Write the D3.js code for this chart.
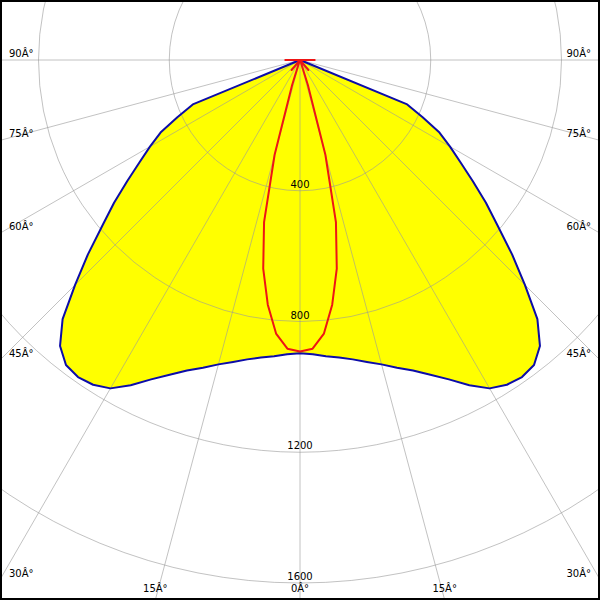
<!DOCTYPE html>
<html>
<head>
<meta charset="utf-8">
<script src="https://cdn.jsdelivr.net/npm/d3@7"></script>
<style>
  html, body { margin: 0; padding: 0; background: #fff; }
  svg { display: block; }
  text { font-family: "DejaVu Sans", sans-serif; font-size: 10px; fill: #000; }
</style>
</head>
<body>
<div id="chart"></div>
<script>
// ---- data ----
const gammaAngles = [0, 2.5, 5, 7.5, 10, 12.5, 15, 17.5, 20, 22.5, 25, 27.5, 30, 32.5, 35, 37.5,
  40, 42.5, 45, 47.5, 50, 52.5, 55, 57.5, 60, 62.5, 65, 67.5, 70, 72.5, 75, 77.5, 80, 82.5, 85, 87.5, 90];
// C0-C180 plane (yellow fill, blue outline), cd
const planeC0 = [897, 901, 910, 918, 930, 946, 964, 987, 1011, 1042, 1078, 1122, 1160, 1178, 1184, 1176,
  1142, 1075, 973, 880, 790, 717, 645, 582, 530, 481, 414, 355, 0, 0, 0, 0, 0, 0, 0, 0, 0];
// C90-C270 plane (red outline), cd
const planeC90 = [892, 884, 840, 755, 648, 508, 300, 80, 8, 5, 5, 5, 5, 5, 5, 5,
  40, 5, 5, 5, 5, 5, 5, 5, 5, 5, 5, 5, 5, 5, 5, 5, 5, 5, 5, 5, 45];
const radialTicks = [400, 800, 1200, 1600];
const angleTicks = [0, 15, 30, 45, 60, 75, 90];
const degSuffix = "\u00C2\u00B0";

// ---- layout ----
const W = 600, H = 600;
const cx = 300, cy = 60;
const r = d3.scaleLinear().domain([0, 1600]).range([0, 523]);

const svg = d3.select("#chart").append("svg").attr("width", W).attr("height", H);
svg.append("defs").append("clipPath").attr("id", "frame")
  .append("rect").attr("x", 0).attr("y", 0).attr("width", W).attr("height", H);

const g = svg.append("g").attr("transform", `translate(${cx},${cy})`).attr("clip-path", null);
const plot = svg.append("g").attr("clip-path", "url(#frame)")
  .append("g").attr("transform", `translate(${cx},${cy})`);

const toRad = a => Math.PI - a * Math.PI / 180; // 0deg points down

function mirrored(values) {
  const left = gammaAngles.map((a, i) => [-a, values[i]]).reverse();
  const right = gammaAngles.slice(1).map((a, i) => [a, values[i + 1]]);
  return left.concat(right);
}

const radial = d3.lineRadial()
  .angle(d => toRad(d[0]))
  .radius(d => r(d[1]))
  .curve(d3.curveLinearClosed);

// yellow fill
plot.append("path").datum(mirrored(planeC0))
  .attr("d", radial).attr("fill", "#ffff00").attr("stroke", "none");

// grid: circles
plot.selectAll("circle.grid").data(radialTicks).enter().append("circle")
  .attr("class", "grid").attr("cx", 0).attr("cy", 0).attr("r", d => r(d))
  .attr("fill", "none").attr("stroke", "#9a9a9a").attr("stroke-opacity", 0.6).attr("stroke-width", 1);

// grid: rays
const rayAngles = angleTicks.flatMap(a => a === 0 ? [0] : [-a, a]);
const rayLine = d3.lineRadial().angle(d => toRad(d[0])).radius(d => r(d[1]));
plot.selectAll("path.ray").data(rayAngles).enter().append("path")
  .attr("class", "ray")
  .attr("d", a => rayLine([[a, 0], [a, 4000]]))
  .attr("fill", "none").attr("stroke", "#9a9a9a").attr("stroke-opacity", 0.6).attr("stroke-width", 1);

// curves
plot.append("path").datum(mirrored(planeC0))
  .attr("d", radial).attr("fill", "none").attr("stroke", "#0c0ca8").attr("stroke-width", 2)
  .attr("stroke-linejoin", "round");
plot.append("path").datum(mirrored(planeC90))
  .attr("d", radial).attr("fill", "none").attr("stroke", "#ee1515").attr("stroke-width", 2)
  .attr("stroke-linejoin", "round");

// radial tick labels
svg.selectAll("text.rlab").data(radialTicks).enter().append("text")
  .attr("class", "rlab")
  .attr("x", cx).attr("y", d => cy + r(d) - 3)
  .attr("text-anchor", "middle")
  .text(d => d);

// angle labels: where each ray leaves the frame
rayAngles.forEach(a => {
  const t = Math.abs(a) * Math.PI / 180;
  const sx = Math.sin(t), sy = Math.cos(t);
  const tSide = sx > 1e-9 ? cx / sx : Infinity;
  const tBot = sy > 1e-9 ? (H - cy) / sy : Infinity;
  const lab = Math.abs(a) + degSuffix;
  if (tSide < tBot) {
    const y = cy + tSide * sy - 3;
    if (a < 0) {
      svg.append("text").attr("x", 9).attr("y", y).attr("text-anchor", "start").text(lab);
    } else {
      svg.append("text").attr("x", 591).attr("y", y).attr("text-anchor", "end").text(lab);
    }
  } else {
    const x = cx + Math.sign(a) * tBot * sx;
    svg.append("text").attr("x", x).attr("y", 592).attr("text-anchor", "middle").text(lab);
  }
});

// frame
svg.append("rect").attr("x", 1).attr("y", 1).attr("width", W - 2).attr("height", H - 2)
  .attr("fill", "none").attr("stroke", "#000").attr("stroke-width", 2);
</script>
</body>
</html>
